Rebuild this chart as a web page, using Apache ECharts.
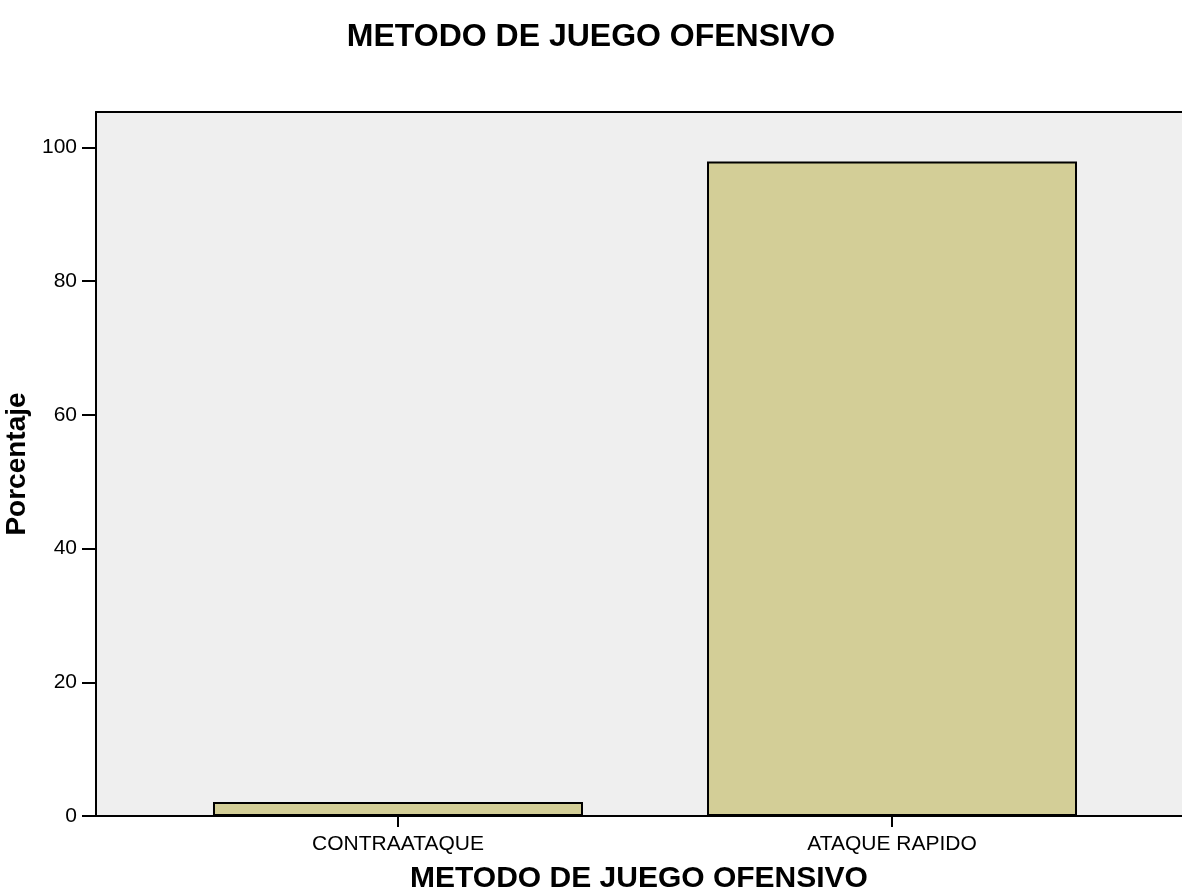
<!DOCTYPE html>
<html>
<head>
<meta charset="utf-8">
<script src="https://cdn.jsdelivr.net/npm/echarts@6/dist/echarts.min.js"></script>
<style>
  html, body { margin: 0; padding: 0; background: #fff; }
  #chart { width: 1182px; height: 894px; }
</style>
</head>
<body>
<div id="chart"></div>
<script>
// ── données ──
const categories = ['CONTRAATAQUE', 'ATAQUE RAPIDO'];
const porcentaje = [2.1, 97.9];
const yTicks     = [0, 20, 40, 60, 80, 100];
const catPos     = [0, 1];

const FONT = 'Liberation Sans, Arial, sans-serif';

const chart = echarts.init(document.getElementById('chart'), null, { renderer: 'canvas' });

// étendue de l'axe X : marges inégales comme dans l'original (cadre coupé à droite)
const X_MIN = -0.6113, X_MAX = 1.587;

chart.setOption({
  backgroundColor: '#ffffff',
  animation: false,
  title: {
    text: 'METODO DE JUEGO OFENSIVO',
    left: 'center', top: 16,
    textStyle: { fontFamily: FONT, fontSize: 32, fontWeight: 'bold', color: '#000' }
  },
  grid: {
    left: 96, top: 112, right: 0, bottom: 78,
    outerBoundsMode: 'none',
    show: true, backgroundColor: '#efefef', borderWidth: 0
  },
  xAxis: [{
    type: 'value',
    min: X_MIN, max: X_MAX,
    name: 'METODO DE JUEGO OFENSIVO',
    nameLocation: 'middle', nameGap: 48,
    nameTextStyle: { fontFamily: FONT, fontSize: 30, fontWeight: 'bold', color: '#000' },
    splitLine: { show: false },
    axisLine: { show: true, onZero: false, lineStyle: { color: '#000', width: 2 } },
    axisTick: { show: true, length: 11, customValues: catPos, lineStyle: { color: '#000', width: 2 } },
    axisLabel: {
      customValues: catPos, margin: 18,
      fontFamily: FONT, fontSize: 21, color: '#000',
      formatter: function (v) { return categories[Math.round(v)] || ''; }
    }
  }, {
    // bord supérieur du cadre
    type: 'value', position: 'top',
    min: X_MIN, max: X_MAX,
    splitLine: { show: false },
    axisLine: { show: true, onZero: false, lineStyle: { color: '#000', width: 2 } },
    axisTick: { show: false },
    axisLabel: { show: false }
  }],
  yAxis: {
    type: 'value',
    min: 0, max: 105.3,
    name: 'Porcentaje',
    nameLocation: 'middle', nameGap: 52, nameRotate: 90,
    nameTextStyle: { fontFamily: FONT, fontSize: 28, fontWeight: 'bold', color: '#000' },
    splitLine: { show: false },
    axisLine: { show: true, onZero: false, lineStyle: { color: '#000', width: 2 } },
    axisTick: { show: true, length: 14, customValues: yTicks, lineStyle: { color: '#000', width: 2 } },
    axisLabel: {
      customValues: yTicks, margin: 19,
      fontFamily: FONT, fontSize: 21, color: '#000'
    }
  },
  series: [{
    type: 'bar',
    barWidth: 370,
    data: catPos.map(function (x, i) { return [x, porcentaje[i]]; }),
    itemStyle: { color: '#d3ce97', borderColor: '#000', borderWidth: 2 }
  }]
});
</script>
</body>
</html>
